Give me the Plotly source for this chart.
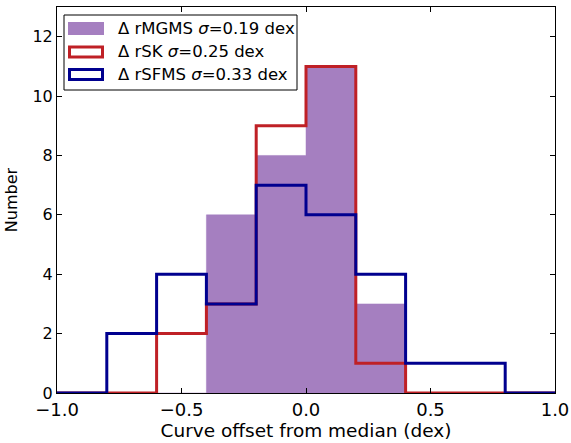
import plotly.graph_objects as go

bin_edges = [-1.0, -0.8, -0.6, -0.4, -0.2, 0.0, 0.2, 0.4, 0.6, 0.8, 1.0]
mgms_counts = [0, 0, 0, 6, 8, 11, 3, 0, 0, 0]
sk_counts = [0, 0, 2, 3, 9, 11, 1, 0, 0, 0]
sfms_counts = [0, 2, 4, 3, 7, 6, 4, 1, 1, 0]

names = ["Δ rMGMS <i>σ</i>=0.19 dex",
         "Δ rSK <i>σ</i>=0.25 dex",
         "Δ rSFMS <i>σ</i>=0.33 dex"]
colors = ["#a57fc0", "#bf2026", "#00008f"]


def step_xy(edges, counts):
    xs, ys = [edges[0]], [0]
    for i, c in enumerate(counts):
        xs += [edges[i], edges[i + 1]]
        ys += [c, c]
    xs.append(edges[-1])
    ys.append(0)
    return xs, ys


fig = go.Figure()

x, y = step_xy(bin_edges, mgms_counts)
fig.add_trace(go.Scatter(x=x, y=y, mode="lines", fill="toself",
                         fillcolor=colors[0], line=dict(color=colors[0], width=0.5),
                         name=names[0], showlegend=False))
x, y = step_xy(bin_edges, sk_counts)
fig.add_trace(go.Scatter(x=x, y=y, mode="lines",
                         line=dict(color=colors[1], width=3),
                         name=names[1], showlegend=False))
x, y = step_xy(bin_edges, sfms_counts)
fig.add_trace(go.Scatter(x=x, y=y, mode="lines",
                         line=dict(color=colors[2], width=3),
                         name=names[2], showlegend=False))

axis_common = dict(showgrid=False, zeroline=False, showline=True, linecolor="black",
                   linewidth=1, mirror="ticks", ticks="inside", ticklen=5,
                   tickcolor="black", tickwidth=1, automargin=False)

fig.update_xaxes(range=[-1.0, 1.0], tickvals=[-1.0, -0.5, 0.0, 0.5, 1.0],
                 tickformat=".1f",
                 tickfont=dict(family="DejaVu Sans", size=18, color="black"),
                 title=dict(text="Curve offset from median (dex)", standoff=4,
                            font=dict(family="DejaVu Sans", size=18.5, color="black")),
                 **axis_common)
fig.update_yaxes(range=[0, 13], tickvals=[0, 2, 4, 6, 8, 10, 12],
                 tickfont=dict(family="DejaVu Sans", size=16, color="black"),
                 title=dict(text="Number", standoff=10,
                            font=dict(family="DejaVu Sans", size=16, color="black")),
                 **axis_common)

# manual legend (paper coordinates), box + patches + labels
L, R, T, B = 57, 555, 7, 393
W, H = R - L, B - T


def px(xp):
    return (xp - L) / W


def py(yp):
    return (B - yp) / H


shapes = [dict(type="rect", xref="paper", yref="paper",
               x0=px(64), x1=px(297), y0=py(90), y1=py(15),
               line=dict(color="black", width=1), fillcolor="white", layer="above")]
annotations = []
row_centers = [28.5, 52, 74.5]
for i, (nm, col, yc) in enumerate(zip(names, colors, row_centers)):
    if i == 0:
        shapes.append(dict(type="rect", xref="paper", yref="paper",
                           x0=px(68), x1=px(104), y0=py(yc + 6.5), y1=py(yc - 6.5),
                           line=dict(width=0), fillcolor=col, layer="above"))
    else:
        shapes.append(dict(type="rect", xref="paper", yref="paper",
                           x0=px(69.5), x1=px(102.5), y0=py(yc + 5), y1=py(yc - 5),
                           line=dict(color=col, width=3), fillcolor="white", layer="above"))
    annotations.append(dict(xref="paper", yref="paper", x=px(116), y=py(yc),
                            xanchor="left", yanchor="middle", showarrow=False,
                            text=nm, font=dict(family="DejaVu Sans", size=16.5, color="black")))

fig.update_layout(
    width=571, height=443,
    margin=dict(l=L, r=571 - R, t=T, b=443 - B),
    plot_bgcolor="white", paper_bgcolor="white",
    showlegend=False,
    shapes=shapes,
    annotations=annotations,
)

fig.write_html("out.html")
